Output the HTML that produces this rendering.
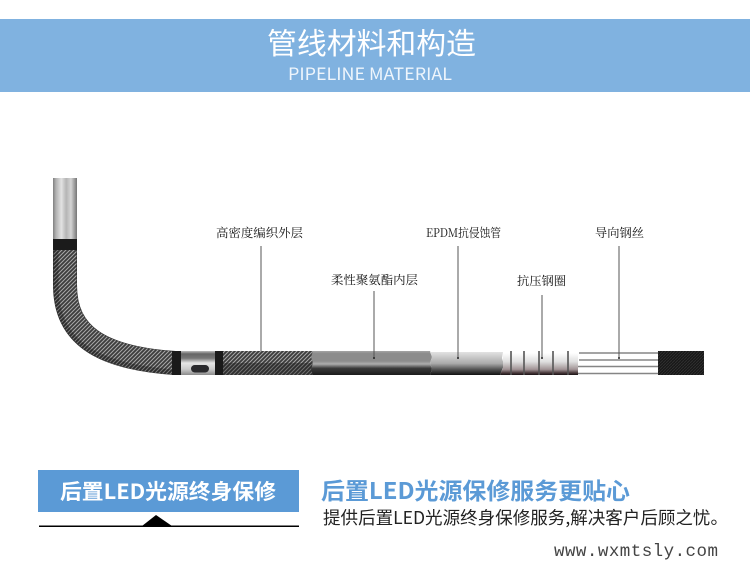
<!DOCTYPE html>
<html lang="zh">
<head>
<meta charset="utf-8">
<style>
html,body{margin:0;padding:0;background:#fff}
svg{display:block}
.serif{font-family:"Noto Serif CJK SC","Liberation Serif",serif;font-size:12px;fill:#111}
.sans{font-family:"Noto Sans CJK SC","Liberation Sans",sans-serif}
</style>
</head>
<body>
<svg width="750" height="569" viewBox="0 0 750 569" xmlns="http://www.w3.org/2000/svg">
<defs>
<pattern id="braid" width="4" height="4" patternUnits="userSpaceOnUse">
<rect width="4" height="4" fill="#3c3c3c"/>
<path d="M0 4L4 0M-1 1L1 -1M3 5L5 3" stroke="#a8a8a8" stroke-width="1"/>
</pattern>
<pattern id="braidLow" width="4" height="4" patternUnits="userSpaceOnUse">
<rect width="4" height="4" fill="#2e2e2e"/>
<path d="M0 4L4 0M-1 1L1 -1M3 5L5 3" stroke="#707070" stroke-width="1"/>
</pattern>
<pattern id="braidFine" width="3" height="3" patternUnits="userSpaceOnUse">
<rect width="3" height="3" fill="#1c1c1c"/>
<path d="M0 3L3 0" stroke="#3f3f3f" stroke-width=".8"/>
</pattern>
<linearGradient id="tip" x1="0" x2="1" y1="0" y2="0">
<stop offset="0" stop-color="#808080"/><stop offset=".12" stop-color="#b0b0b0"/>
<stop offset=".35" stop-color="#e2e2e2"/><stop offset=".55" stop-color="#b5b5b5"/>
<stop offset=".75" stop-color="#d4d4d4"/><stop offset="1" stop-color="#757575"/>
</linearGradient>
<linearGradient id="collar" x1="0" x2="0" y1="0" y2="1">
<stop offset="0" stop-color="#bdbdbd"/><stop offset=".12" stop-color="#666"/>
<stop offset=".3" stop-color="#777"/><stop offset=".5" stop-color="#e6e6e6"/>
<stop offset=".75" stop-color="#ccc"/><stop offset="1" stop-color="#8a8a8a"/>
</linearGradient>
<linearGradient id="gray" x1="0" x2="0" y1="0" y2="1">
<stop offset="0" stop-color="#a5a5a5"/><stop offset=".1" stop-color="#8c8c8c"/>
<stop offset=".42" stop-color="#8c8c8c"/><stop offset=".54" stop-color="#adadad"/>
<stop offset=".72" stop-color="#3a3a3a"/><stop offset="1" stop-color="#1c1c1c"/>
</linearGradient>
<linearGradient id="epdm" x1="0" x2="0" y1="0" y2="1">
<stop offset="0" stop-color="#e2e2e2"/><stop offset=".5" stop-color="#aaa"/>
<stop offset=".75" stop-color="#555"/><stop offset="1" stop-color="#111"/>
</linearGradient>
<linearGradient id="rings" x1="0" x2="0" y1="0" y2="1">
<stop offset="0" stop-color="#fff"/><stop offset=".4" stop-color="#dedede"/>
<stop offset=".75" stop-color="#a09294"/><stop offset=".9" stop-color="#4a3a3c"/><stop offset="1" stop-color="#1a1214"/>
</linearGradient>
</defs>

<!-- header -->
<rect x="0" y="19" width="750" height="73" fill="#80b2e0"/>
<text class="sans" x="267" y="54" font-size="29.5" fill="#fff" textLength="209" lengthAdjust="spacingAndGlyphs">管线材料和构造</text>
<text class="sans" x="288" y="80" font-size="17" fill="#eef5fc" textLength="164" lengthAdjust="spacingAndGlyphs">PIPELINE MATERIAL</text>

<!-- metal tip -->
<rect x="53" y="178" width="24" height="62" fill="url(#tip)"/>

<!-- bent braided tube -->
<path d="M65 246L65 285C65 335 100 358 175 363" fill="none" stroke="#2c2c2c" stroke-width="24"/>
<path d="M65 246L65 285C65 335 100 358 175 363" fill="none" stroke="url(#braid)" stroke-width="23"/>
<path d="M56 250L56 285C56 342 95 366 175 372" fill="none" stroke="#000" stroke-opacity=".28" stroke-width="5"/>
<rect x="53" y="239" width="24" height="11" fill="#1b1b1b"/>

<!-- collar -->
<rect x="172" y="351" width="9" height="24" fill="#1a1a1a"/>
<rect x="181" y="351" width="34" height="24" fill="url(#collar)"/>
<rect x="215" y="351" width="8" height="24" fill="#1a1a1a"/>
<rect x="191" y="365" width="18" height="7.5" rx="3.7" fill="#2a2a2d"/>

<!-- straight braid -->
<rect x="223" y="351" width="92" height="12" fill="url(#braid)"/>
<rect x="223" y="363" width="92" height="12" fill="url(#braidLow)"/>

<!-- gray layer -->
<polygon points="313,351 430,351 432,357 430,363 432,369 430,375 313,375 311,369 313,363 311,357" fill="url(#gray)"/>

<!-- EPDM -->
<polygon points="430,352 503,352 502,358 504,365 502,370 500,375 430,375 432,369 430,363 432,357" fill="url(#epdm)"/>

<!-- rings -->
<polygon points="503,353 578,353 578,375 500,375 503,368" fill="url(#rings)"/>
<g stroke="#555" stroke-width="1.6">
<line x1="511" y1="351" x2="511" y2="375"/>
<line x1="524" y1="351" x2="524" y2="375"/>
<line x1="539" y1="351" x2="539" y2="375"/>
<line x1="553" y1="351" x2="553" y2="375"/>
<line x1="568" y1="351" x2="568" y2="375"/>
</g>

<!-- wires -->
<g stroke="#858585" stroke-width="1.6">
<line x1="579" y1="353" x2="658" y2="353"/>
<line x1="579" y1="360" x2="658" y2="360"/>
<line x1="578" y1="366.5" x2="658" y2="366.5"/>
<line x1="578" y1="373.5" x2="658" y2="373.5"/>
</g>

<!-- end braid -->
<rect x="658" y="351" width="46" height="24" fill="url(#braidFine)"/>
<rect x="658" y="351" width="46" height="24" fill="#111" fill-opacity=".3"/>

<!-- leaders -->
<g stroke="#555" stroke-width="1">
<line x1="261" y1="246" x2="261" y2="351"/>
<line x1="374" y1="291" x2="374" y2="358"/>
<line x1="458" y1="246" x2="458" y2="358"/>
<line x1="542" y1="295" x2="542" y2="358"/>
<line x1="619" y1="246" x2="619" y2="358"/>
</g>
<g fill="#222">
<circle cx="374" cy="358" r="1"/><circle cx="458" cy="358" r="1"/><circle cx="542" cy="358" r="1"/><circle cx="619" cy="358" r="1"/>
</g>

<!-- labels -->
<text class="serif" x="216" y="237" textLength="87" lengthAdjust="spacingAndGlyphs">高密度编织外层</text>
<text class="serif" x="331" y="284" textLength="87" lengthAdjust="spacingAndGlyphs">柔性聚氨酯内层</text>
<text class="serif" x="426" y="237" textLength="75" lengthAdjust="spacingAndGlyphs">EPDM抗侵蚀管</text>
<text class="serif" x="517" y="285" textLength="49" lengthAdjust="spacingAndGlyphs">抗压钢圈</text>
<text class="serif" x="595" y="237" textLength="49" lengthAdjust="spacingAndGlyphs">导向钢丝</text>

<!-- bottom left -->
<rect x="38" y="470" width="261" height="42" fill="#5b9ad6"/>
<text class="sans" x="60" y="499" font-size="21" fill="#fff" textLength="216" lengthAdjust="spacingAndGlyphs" style="font-weight:700">后置LED光源终身保修</text>
<polygon points="142,526 156,515 172,526" fill="#000"/>
<rect x="39" y="525.5" width="260" height="1.5" fill="#000"/>

<!-- bottom right -->
<text class="sans" x="321" y="499" font-size="23" fill="#5b9ad6" textLength="309" lengthAdjust="spacingAndGlyphs" style="font-weight:700">后置LED光源保修服务更贴心</text>
<text class="sans" x="323" y="524" font-size="17.5" fill="#222" textLength="405" lengthAdjust="spacingAndGlyphs">提供后置LED光源终身保修服务,解决客户后顾之忧。</text>
<text x="554" y="556" font-family="'Liberation Mono',monospace" font-size="17.5" fill="#444" textLength="164" lengthAdjust="spacing">www.wxmtsly.com</text>
</svg>
</body>
</html>
